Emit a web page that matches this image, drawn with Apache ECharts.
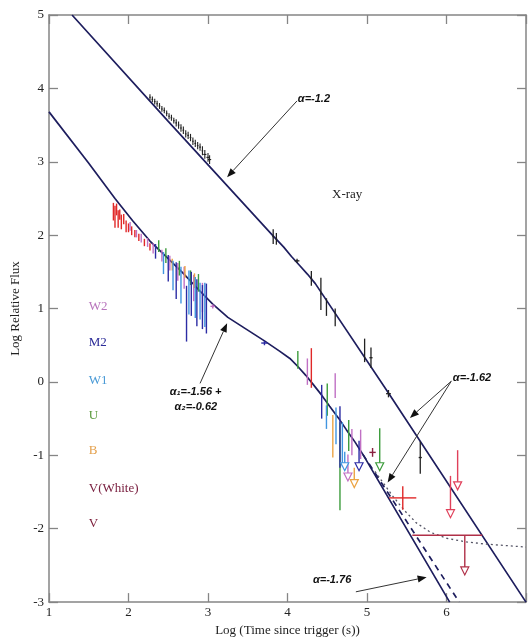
<!DOCTYPE html>
<html><head><meta charset="utf-8">
<script src="https://cdn.jsdelivr.net/npm/echarts@6/dist/echarts.min.js"></script>
<style>html,body{margin:0;padding:0;background:#fff}#c{width:529px;height:642px}</style>
</head><body><div id="c"></div>
<script>
// ---------- DATA ----------
const xTicks = [1, 2, 3, 4, 5, 6, 7];
const yTicks = [-3, -2, -1, 0, 1, 2, 3, 4, 5];

// model curves [x, y]
const xrayModel = [[1.29,5.0],[2.5,3.55],[3.81,2.0],[3.95,1.84],[4.05,1.71],[4.15,1.59],[4.25,1.47],[4.35,1.34],[5.27,-0.15],[7.0,-3.0]];
const optModel = [[1.0,3.68],[1.5,2.98],[1.83,2.5],[2.05,2.2],[2.27,1.92],[2.48,1.7],[2.68,1.49],[2.88,1.26],[3.06,1.06],[3.25,0.88],[3.48,0.72],[3.71,0.56],[3.9,0.42],[4.03,0.32],[4.13,0.21],[4.23,0.09],[4.32,-0.03],[4.43,-0.18],[4.53,-0.33],[4.64,-0.49],[4.74,-0.65],[4.85,-0.82],[4.95,-0.99],[6.04,-3.0]];
const optDashed = [[4.95,-0.99],[6.16,-3.0]];
const optDotted = [[5.1,-1.22],[5.32,-1.55],[5.47,-1.75],[5.62,-1.92],[5.8,-2.05],[6.0,-2.13],[6.25,-2.18],[6.5,-2.21],[7.0,-2.25]];

// X-ray data [x, y, yerr, xerr]
const xrayEarly = [[2.27,3.88,0.04,0.01],[2.30,3.85,0.04,0.01],[2.33,3.82,0.04,0.01],[2.36,3.79,0.04,0.01],[2.39,3.76,0.04,0.01],[2.42,3.72,0.04,0.01],[2.45,3.70,0.04,0.01],[2.48,3.66,0.04,0.01],[2.51,3.62,0.04,0.01],[2.54,3.60,0.04,0.01],[2.57,3.56,0.04,0.01],[2.60,3.53,0.05,0.01],[2.63,3.50,0.05,0.01],[2.66,3.46,0.05,0.01],[2.69,3.43,0.05,0.01],[2.72,3.38,0.05,0.01],[2.75,3.36,0.05,0.01],[2.78,3.33,0.05,0.01],[2.81,3.28,0.05,0.01],[2.84,3.25,0.05,0.01],[2.87,3.22,0.05,0.01],[2.90,3.20,0.05,0.01],[2.93,3.15,0.06,0.01],[2.96,3.10,0.06,0.02],[3.00,3.06,0.06,0.02],[3.02,3.03,0.06,0.02]];
const xrayLate = [[3.82,1.98,0.10,0.01],[3.86,1.95,0.08,0.01],[4.12,1.65,0.03,0.03],[4.30,1.41,0.10,0.01],[4.42,1.20,0.22,0.01],[4.49,1.02,0.12,0],[4.60,0.88,0.12,0],[4.97,0.43,0.16,0],[5.05,0.33,0.14,0.02],[5.27,-0.16,0.05,0.03],[5.67,-1.03,0.22,0.02]];

// UVOT / optical data [x, y, yerr, xerr]
const dataW2 = [[2.02,2.12,0.06,0],[2.10,2.02,0.05,0],[2.16,1.96,0.06,0],[2.24,1.90,0.06,0],[2.31,1.82,0.07,0],[2.42,1.72,0.08,0],[2.52,1.62,0.10,0],[2.62,1.50,0.12,0],[2.70,1.42,0.15,0],[2.82,1.28,0.18,0],[2.93,1.15,0.20,0],[3.06,1.03,0.03,0.03],[4.25,0.14,0.18,0],[4.60,-0.05,0.17,0],[4.81,-0.82,0.18,0],[4.92,-0.85,0.20,0]];
const dataM2 = [[2.34,1.78,0.10,0],[2.50,1.55,0.18,0],[2.60,1.38,0.25,0],[2.73,0.93,0.38,0],[2.79,1.20,0.30,0],[2.86,1.08,0.32,0],[2.93,1.02,0.30,0],[2.98,1.00,0.34,0],[3.71,0.53,0.03,0.04],[4.43,-0.27,0.23,0],[4.66,-0.75,0.42,0]];
const dataW1 = [[2.44,1.62,0.15,0],[2.56,1.45,0.20,0],[2.66,1.32,0.25,0],[2.76,1.22,0.30,0],[2.84,1.15,0.28,0],[2.90,1.10,0.25,0],[2.96,1.05,0.30,0],[4.49,-0.48,0.16,0],[4.61,-0.60,0.25,0],[4.69,-0.85,0.30,0]];
const dataU = [[2.38,1.85,0.08,0],[2.47,1.72,0.10,0],[2.64,1.55,0.10,0],[2.78,1.42,0.10,0],[2.88,1.35,0.12,0],[4.13,0.30,0.12,0],[4.50,-0.24,0.22,0],[4.66,-1.15,0.60,0],[4.77,-0.73,0.21,0]];
const dataB = [[2.55,1.60,0.08,0],[2.71,1.50,0.08,0],[2.83,1.38,0.10,0],[4.57,-0.74,0.29,0]];
const dataVWhite = [[5.07,-0.96,0.06,0.04]];
const dataV = [[1.81,2.32,0.12,0],[1.83,2.25,0.15,0],[1.85,2.35,0.08,0],[1.87,2.22,0.12,0],[1.89,2.28,0.07,0],[1.91,2.18,0.10,0],[1.94,2.22,0.07,0],[1.97,2.12,0.08,0],[2.00,2.10,0.06,0],[2.04,2.06,0.06,0],[2.08,2.02,0.05,0],[2.13,1.97,0.05,0],[2.20,1.90,0.05,0],[2.27,1.84,0.05,0],[4.30,0.19,0.27,0],[5.45,-1.58,0.16,0.17]];

// upper limits [x, yFrom, yTo]
const limW2 = [[4.76,-0.99,-1.35]];
const limM2 = [[4.90,-0.80,-1.21]];
const limW1 = [[4.72,-0.95,-1.21]];
const limU = [[5.16,-0.63,-1.21]];
const limB = [[4.84,-1.17,-1.44]];
const limV = [[6.05,-1.28,-1.85],[6.14,-0.93,-1.47]];
// horizontal-bar upper limit [xFrom, xTo, y, xArrow, yTo]
const limVWhiteBar = [[5.57,6.45,-2.09,6.23,-2.63]];

// legend labels
const legendNames = ['W2','M2','W1','U','B','V(White)','V'];
const legendY = [1.03,0.53,0.02,-0.46,-0.94,-1.45,-1.93];
const legendX = 1.5;

// annotations
const annText = ['α=-1.2','α=-1.62','α\u2081=-1.56 +','α\u2082=-0.62','α=-1.76'];
const annX = [4.13,6.08,2.52,2.58,4.32];
const annY = [3.85,0.05,-0.13,-0.34,-2.70];
const xrayLabel = [[4.56,2.55]];
// arrows [x1, y1, x2, y2]
const arrows = [[4.12,3.83,3.24,2.79],[6.06,0.01,5.54,-0.49],[6.06,0.01,5.26,-1.37],[2.90,-0.02,3.24,0.80],[4.86,-2.86,5.75,-2.66]];

// ---------- STYLE ----------
const SERIF = '"Liberation Serif","DejaVu Serif",serif';
const SANS = '"Liberation Sans",Arial,sans-serif';
const C = {W2:'#c070c4', M2:'#2c2ca4', W1:'#4095e0', U:'#3c9c3c', B:'#eca444', VWhite:'#8a2040', V:'#e02828'};
const legendColors = ['#b874bc','#2c2c98','#4a9ad6','#5a9a3c','#e4a04c','#7a2040','#7a1a38'];
const LINE = '#1e1e5e';
const AX = '#858585';

function errSeries(data, color, lw) {
  return {type:'custom', data, encode:{x:0,y:1}, z:5, clip:true,
    renderItem:(p, api) => {
      const x = api.value(0), y = api.value(1), ye = api.value(2), xe = api.value(3);
      const t = api.coord([x, y + ye]), b = api.coord([x, y - ye]);
      const ch = [{type:'line', shape:{x1:t[0],y1:t[1],x2:b[0],y2:b[1]}, style:{stroke:color, lineWidth:lw}}];
      if (xe > 0) {
        const l = api.coord([x - xe, y]), r = api.coord([x + xe, y]);
        ch.push({type:'line', shape:{x1:l[0],y1:l[1],x2:r[0],y2:r[1]}, style:{stroke:color, lineWidth:lw}});
      }
      return {type:'group', children:ch};
    }};
}
function tri(b, color) {
  return {type:'polygon', shape:{points:[[b[0]-4,b[1]-8],[b[0]+4,b[1]-8],[b[0],b[1]]]}, style:{fill:'#fff', stroke:color, lineWidth:1.2}};
}
function limSeries(data, color) {
  return {type:'custom', data, encode:{x:0,y:[1,2]}, z:6,
    renderItem:(p, api) => {
      const x = api.value(0);
      const a = api.coord([x, api.value(1)]), b = api.coord([x, api.value(2)]);
      return {type:'group', children:[
        {type:'line', shape:{x1:a[0],y1:a[1],x2:b[0],y2:b[1]-7}, style:{stroke:color, lineWidth:1.4}},
        tri(b, color)]};
    }};
}

const series = [];
series.push({type:'line', data:xrayModel, showSymbol:false, lineStyle:{color:LINE, width:1.7}, z:3});
series.push({type:'line', data:optModel, showSymbol:false, lineStyle:{color:LINE, width:1.7}, z:3});
series.push({type:'line', data:optDashed, showSymbol:false, lineStyle:{color:LINE, width:1.7, type:[6,5]}, z:3});
series.push({type:'line', data:optDotted, showSymbol:false, lineStyle:{color:'#555566', width:1.3, type:[2,3]}, z:3});
series.push(errSeries(xrayEarly, '#222', 1.1));
series.push(errSeries(xrayLate, '#222', 1.3));
series.push(errSeries(dataV, C.V, 1.4));
series.push(errSeries(dataW2, C.W2, 1.4));
series.push(errSeries(dataU, C.U, 1.4));
series.push(errSeries(dataB, C.B, 1.4));
series.push(errSeries(dataW1, C.W1, 1.4));
series.push(errSeries(dataM2, C.M2, 1.4));
series.push(errSeries(dataVWhite, C.VWhite, 1.4));
series.push(limSeries(limW2, C.W2));
series.push(limSeries(limM2, C.M2));
series.push(limSeries(limW1, C.W1));
series.push(limSeries(limU, C.U));
series.push(limSeries(limB, C.B));
series.push(limSeries(limV, '#e0405a'));
series.push({type:'custom', data:limVWhiteBar, encode:{x:[0,1,3],y:[2,4]}, z:6,
  renderItem:(p, api) => {
    const l = api.coord([api.value(0), api.value(2)]), r = api.coord([api.value(1), api.value(2)]);
    const a = api.coord([api.value(3), api.value(2)]), b = api.coord([api.value(3), api.value(4)]);
    const col = '#b03048';
    return {type:'group', children:[
      {type:'line', shape:{x1:l[0],y1:l[1],x2:r[0],y2:r[1]}, style:{stroke:col, lineWidth:1.4}},
      {type:'line', shape:{x1:a[0],y1:a[1],x2:b[0],y2:b[1]-7}, style:{stroke:col, lineWidth:1.4}},
      tri(b, col)]};
  }});
// arrows
series.push({type:'custom', data:arrows, encode:{x:[0,2],y:[1,3]}, z:8, clip:false,
  renderItem:(p, api) => {
    const a = api.coord([api.value(0), api.value(1)]), b = api.coord([api.value(2), api.value(3)]);
    const dx = b[0]-a[0], dy = b[1]-a[1], L = Math.hypot(dx, dy), ux = dx/L, uy = dy/L;
    const hl = 9, hw = 3.5;
    const bx = b[0]-ux*hl, by = b[1]-uy*hl;
    return {type:'group', children:[
      {type:'line', shape:{x1:a[0],y1:a[1],x2:bx,y2:by}, style:{stroke:'#333', lineWidth:1}},
      {type:'polygon', shape:{points:[[b[0],b[1]],[bx-uy*hw,by+ux*hw],[bx+uy*hw,by-ux*hw]]}, style:{fill:'#111'}}]};
  }});
// annotation texts
series.push({type:'custom', data:annX.map((x,i)=>[x, annY[i]]), encode:{x:0,y:1}, z:9, clip:false,
  renderItem:(p, api) => {
    const c = api.coord([api.value(0), api.value(1)]);
    return {type:'text', x:c[0], y:c[1], style:{text:annText[p.dataIndex], font:'italic bold 11px '+SANS, fill:'#111', verticalAlign:'middle', align:'left'}};
  }});
series.push({type:'custom', data:xrayLabel, encode:{x:0,y:1}, z:9,
  renderItem:(p, api) => {
    const c = api.coord([api.value(0), api.value(1)]);
    return {type:'text', x:c[0], y:c[1], style:{text:'X-ray', font:'13px '+SERIF, fill:'#222', verticalAlign:'middle', align:'left'}};
  }});
// legend labels
series.push({type:'custom', data:legendY.map(y=>[legendX, y]), encode:{x:0,y:1}, z:9,
  renderItem:(p, api) => {
    const c = api.coord([api.value(0), api.value(1)]);
    return {type:'text', x:c[0], y:c[1], style:{text:legendNames[p.dataIndex], font:'13px '+SERIF, fill:legendColors[p.dataIndex], verticalAlign:'middle', align:'left'}};
  }});

const axBase = {type:'value', splitLine:{show:false},
  axisLine:{show:true, onZero:false, lineStyle:{color:AX, width:1.5}},
  axisTick:{show:true, inside:true, length:9, lineStyle:{color:AX, width:1.3}}};

const option = {
  animation:false,
  backgroundColor:'#fff',
  grid:{left:49, right:2, top:15, bottom:37, containLabel:false},
  xAxis:[
    Object.assign({}, axBase, {position:'bottom', min:xTicks[0], max:xTicks[xTicks.length-1], interval:1,
      axisLabel:{fontFamily:SERIF, fontSize:13, color:'#222', margin:4, formatter:v => (v === 7 ? '' : String(v))},
      name:'Log (Time since trigger (s))', nameLocation:'middle', nameGap:15,
      nameTextStyle:{fontFamily:SERIF, fontSize:13, color:'#222'}}),
    Object.assign({}, axBase, {position:'top', min:xTicks[0], max:xTicks[xTicks.length-1], interval:1, axisLabel:{show:false}})
  ],
  yAxis:[
    Object.assign({}, axBase, {position:'left', min:yTicks[0], max:yTicks[yTicks.length-1], interval:1,
      axisLabel:{fontFamily:SERIF, fontSize:13, color:'#222', margin:5},
      name:'Log Relative Flux', nameLocation:'middle', nameGap:23, nameRotate:90,
      nameTextStyle:{fontFamily:SERIF, fontSize:13, color:'#222'}}),
    Object.assign({}, axBase, {position:'right', min:yTicks[0], max:yTicks[yTicks.length-1], interval:1, axisLabel:{show:false}})
  ],
  series
};
const chart = echarts.init(document.getElementById('c'));
chart.setOption(option);
</script>
</body></html>
